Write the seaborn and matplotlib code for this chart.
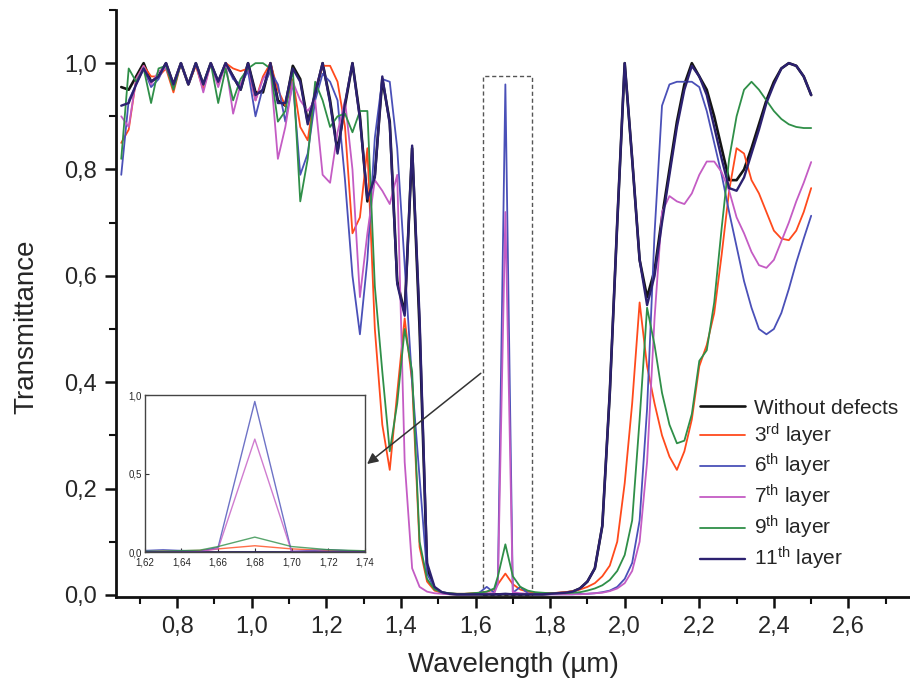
import matplotlib
matplotlib.use("Agg")
import matplotlib.pyplot as plt
import numpy as np
import pandas as pd
import seaborn as sns
from matplotlib.patches import Rectangle
from matplotlib.ticker import MultipleLocator, FuncFormatter

# Sampling grid (µm)
wavelength = [
    0.65, 0.67, 0.69, 0.71, 0.73, 0.75, 0.77, 0.79, 0.81, 0.83,
    0.85, 0.87, 0.89, 0.91, 0.93, 0.95, 0.97, 0.99, 1.01, 1.03,
    1.05, 1.07, 1.09, 1.11, 1.13, 1.15, 1.17, 1.19, 1.21, 1.23,
    1.25, 1.27, 1.29, 1.31, 1.33, 1.35, 1.37, 1.39, 1.41, 1.43,
    1.45, 1.47, 1.49, 1.51, 1.53, 1.55, 1.57, 1.59, 1.61, 1.63,
    1.65, 1.66, 1.68,
    1.70, 1.72, 1.74, 1.76, 1.78, 1.80, 1.82, 1.84, 1.86, 1.88,
    1.90, 1.92, 1.94, 1.96, 1.98, 2.00, 2.02, 2.04, 2.06, 2.08,
    2.10, 2.12, 2.14, 2.16, 2.18, 2.20, 2.22, 2.24, 2.26, 2.28,
    2.30, 2.32, 2.34, 2.36, 2.38, 2.40, 2.42, 2.44, 2.46, 2.48, 2.50,
]

without_defects = [
    .955, .95, .975, 1.0, .965, .975, 1.0, .96, 1.0, .96,
    1.0, .96, 1.0, .965, 1.0, .975, .95, 1.0, .945, .945,
    1.0, .93, .92, .995, .97, .89, .94, 1.0, .93, .835,
    .92, 1.0, .90, .74, .79, .97, .89, .59, .53, .84,
    .50, .05, .012, .004, .002, .001, .001, .001, .001, .001,
    .001, .001, .001,
    .001, .001, .001, .001, .001, .002, .003, .004, .006, .012,
    .025, .05, .13, .38, .70, 1.0, .82, .63, .56, .61,
    .71, .80, .89, .96, 1.0, .975, .95, .90, .84, .78,
    .78, .80, .84, .885, .93, .965, .99, 1.0, .995, .975, .94,
]

layer_3 = [
    .85, .875, .97, .995, .975, .975, .99, .945, 1.0, .96,
    .995, .95, 1.0, .96, 1.0, .99, .985, .99, .93, .975,
    1.0, .95, .92, .97, .88, .855, .95, .995, .995, .965,
    .88, .68, .71, .84, .50, .32, .235, .38, .52, .40,
    .09, .025, .008, .004, .002, .002, .002, .003, .004, .006,
    .01, .02, .04,
    .02, .01, .006, .004, .003, .003, .004, .005, .007, .01,
    .015, .022, .035, .055, .10, .21, .36, .55, .43, .36,
    .30, .26, .235, .27, .33, .43, .47, .53, .64, .76,
    .84, .83, .78, .755, .72, .685, .67, .667, .685, .72, .765,
]

layer_6 = [
    .79, .93, .96, .99, .955, .97, 1.0, .955, 1.0, .96,
    1.0, .96, 1.0, .965, 1.0, .97, .96, .985, .90, .955,
    .985, .96, .89, .965, .79, .83, .93, .98, .965, .93,
    .78, .60, .49, .63, .86, .97, .965, .84, .62, .40,
    .22, .04, .012, .004, .002, .001, .001, .001, .004, .015,
    .004, .03, .96,
    .004, .015, .003, .001, .001, .001, .001, .001, .001, .002,
    .002, .003, .005, .008, .015, .03, .06, .14, .35, .68,
    .92, .96, .965, .965, .965, .955, .91, .85, .79, .72,
    .655, .59, .54, .50, .49, .50, .53, .575, .625, .67, .713,
]

layer_7 = [
    .90, .88, .97, .995, .96, .985, .99, .96, 1.0, .96,
    1.0, .945, 1.0, .955, 1.0, .905, .96, .995, .93, .97,
    .99, .82, .88, .965, .93, .91, .93, .79, .775, .87,
    .93, .80, .56, .68, .78, .76, .735, .79, .25, .05,
    .015, .006, .003, .002, .001, .001, .001, .001, .001, .003,
    .003, .02, .72,
    .005, .003, .002, .001, .001, .001, .001, .001, .001, .001,
    .002, .003, .004, .007, .012, .022, .045, .10, .25, .52,
    .72, .75, .74, .735, .755, .79, .815, .815, .795, .76,
    .71, .68, .645, .62, .615, .63, .665, .70, .74, .775, .814,
]

layer_9 = [
    .82, .99, .965, .99, .925, .99, .995, .95, 1.0, .96,
    1.0, .96, 1.0, .925, .99, .93, .97, .99, 1.0, 1.0,
    .99, .89, .91, .99, .74, .82, .965, .93, .88, .90,
    .905, .87, .91, .91, .58, .42, .27, .36, .50, .42,
    .10, .03, .01, .005, .003, .002, .002, .003, .004, .006,
    .012, .035, .095,
    .035, .015, .008, .005, .004, .003, .003, .003, .004, .005,
    .008, .012, .018, .028, .045, .075, .14, .33, .54, .47,
    .38, .32, .285, .29, .34, .44, .46, .55, .69, .82,
    .90, .95, .965, .95, .93, .91, .895, .885, .88, .878, .878,
]

layer_11 = [
    .92, .925, .96, .99, .965, .975, 1.0, .96, 1.0, .96,
    1.0, .96, 1.0, .965, 1.0, .975, .95, 1.0, .94, .95,
    1.0, .925, .925, .99, .965, .885, .945, 1.0, .925, .83,
    .925, 1.0, .895, .745, .785, .975, .885, .585, .525, .845,
    .52, .06, .015, .005, .002, .001, .001, .001, .001, .001,
    .001, .001, .002,
    .001, .001, .001, .001, .001, .002, .003, .004, .006, .012,
    .025, .05, .13, .38, .70, 1.0, .82, .63, .545, .60,
    .70, .79, .88, .95, .995, .975, .94, .88, .82, .765,
    .76, .785, .83, .875, .925, .96, .99, 1.0, .995, .975, .94,
]

labels = ["Without defects", "3$^{\\rm rd}$ layer", "6$^{\\rm th}$ layer",
          "7$^{\\rm th}$ layer", "9$^{\\rm th}$ layer", "11$^{\\rm th}$ layer"]
values = [without_defects, layer_3, layer_6, layer_7, layer_9, layer_11]
colors = ["#141414", "#ff4a1c", "#4a50b8", "#c45cc4", "#2f8f48", "#2c2170"]
widths = [1.9, 1.3, 1.3, 1.3, 1.3, 1.7]

df = pd.concat(
    [pd.DataFrame({"wavelength": wavelength, "T": v, "series": lab})
     for lab, v in zip(labels, values)],
    ignore_index=True,
)

sns.set_theme(style="ticks")
plt.rcParams["font.family"] = ["Liberation Sans", "DejaVu Sans"]
plt.rcParams["mathtext.fontset"] = "custom"
plt.rcParams["mathtext.rm"] = "Liberation Sans"
plt.rcParams["mathtext.it"] = "Liberation Sans"

fig = plt.figure(figsize=(9.1, 6.79), dpi=100)
ax = fig.add_axes([0.1275, 0.1208, 0.8725, 0.8645])

for lab, col, lw in zip(labels, colors, widths):
    sns.lineplot(data=df[df["series"] == lab], x="wavelength", y="T",
                 color=col, lw=lw, ax=ax, label=lab,
                 sort=False, estimator=None)

comma = FuncFormatter(lambda v, p: f"{v:.1f}".replace(".", ","))
ax.set_xlim(0.636, 2.765)
ax.set_ylim(-0.004, 1.10)
ax.xaxis.set_major_locator(MultipleLocator(0.2))
ax.xaxis.set_minor_locator(MultipleLocator(0.1))
ax.yaxis.set_major_locator(MultipleLocator(0.2))
ax.yaxis.set_minor_locator(MultipleLocator(0.1))
ax.xaxis.set_major_formatter(comma)
ax.yaxis.set_major_formatter(comma)
for s in ["top", "right"]:
    ax.spines[s].set_visible(False)
for s in ["left", "bottom"]:
    ax.spines[s].set_linewidth(2.0)
    ax.spines[s].set_color("#111111")
ax.tick_params(which="major", direction="out", length=8, width=1.8,
               labelsize=17, pad=6, color="#111111")
ax.tick_params(which="minor", direction="out", length=5, width=1.5,
               color="#111111")
ax.set_xlabel("Wavelength (µm)", fontsize=20, labelpad=10)
ax.set_ylabel("Transmittance", fontsize=20)
ax.yaxis.set_label_coords(-0.096, 0.46)

# Dashed frame around the defect mode
ax.add_patch(Rectangle((1.62, 0.0), 0.132, 0.976, fill=False,
                       ls=(0, (3, 2)), lw=1.0, ec="#555555", zorder=1))

ax.legend(frameon=False, loc="upper left", bbox_to_anchor=(0.735, 0.338),
          fontsize=15, handlelength=2.2, labelspacing=0.18,
          handletextpad=0.4, borderpad=0.0, borderaxespad=0.0)

# Inset: zoom on the defect peak
axins = fig.add_axes([0.159, 0.187, 0.242, 0.231])
for lab, col in zip(labels, colors):
    sns.lineplot(data=df[df["series"] == lab], x="wavelength", y="T",
                 color=col, lw=1.0, alpha=0.8, ax=axins, legend=False,
                 sort=False, estimator=None)
axins.set_xlim(1.62, 1.74)
axins.set_ylim(0.0, 1.0)
axins.set_xticks([1.62, 1.64, 1.66, 1.68, 1.70, 1.72, 1.74])
axins.set_yticks([0.0, 0.5, 1.0])
axins.xaxis.set_major_formatter(FuncFormatter(lambda v, p: f"{v:.2f}".replace(".", ",")))
axins.yaxis.set_major_formatter(comma)
axins.tick_params(direction="in", length=3, width=0.8, labelsize=7,
                  color="#333333")
axins.tick_params(axis="x", pad=4)
axins.tick_params(axis="y", pad=2)
axins.set_xlabel("")
axins.set_ylabel("")
for s in axins.spines.values():
    s.set_linewidth(1.0)
    s.set_color("#444444")

ax.annotate("", xy=(1.0, 0.55), xycoords=axins.transAxes,
            xytext=(1.62, 0.42), textcoords=ax.transData,
            arrowprops=dict(arrowstyle="-|>", color="#333333", lw=1.1,
                            mutation_scale=16))

fig.savefig("out.png", dpi=100, facecolor="white")
